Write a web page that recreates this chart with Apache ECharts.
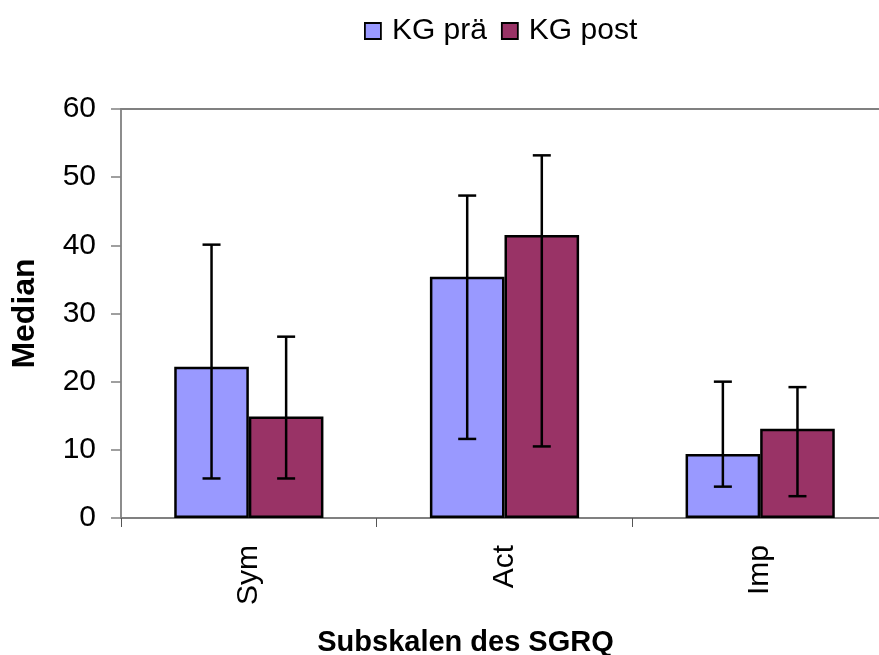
<!DOCTYPE html>
<html>
<head>
<meta charset="utf-8">
<script src="https://cdn.jsdelivr.net/npm/echarts@6/dist/echarts.min.js"></script>
<style>html,body{margin:0;padding:0;background:#fff}#c{width:879px;height:655px}</style>
</head>
<body>
<div id="c"></div>
<script>
const categories = ['Sym', 'Act', 'Imp'];
const seriesNames = ['KG prä', 'KG post'];
const praeValues = [22.2, 35.4, 9.4];
const postValues = [14.9, 41.5, 13.1];
const praeLow = [5.8, 11.6, 4.6];
const praeHigh = [40.1, 47.3, 20.0];
const postLow = [5.8, 10.5, 3.2];
const postHigh = [26.6, 53.2, 19.2];
const yTicks = [0, 10, 20, 30, 40, 50, 60];

const BAR_W = 74.6;
const FONT = '"Liberation Sans", Arial, sans-serif';

function errData(low, high) {
  return categories.map((c, i) => [i, low[i], high[i]]);
}
function errRender(offset) {
  return function (params, api) {
    const idx = api.value(0);
    const lo = api.coord([idx, api.value(1)]);
    const hi = api.coord([idx, api.value(2)]);
    const x = lo[0] + offset;
    const cap = 9;
    const style = { stroke: '#000', lineWidth: 2.5 };
    return {
      type: 'group',
      children: [
        { type: 'line', shape: { x1: x, y1: hi[1], x2: x, y2: lo[1] }, style },
        { type: 'line', shape: { x1: x - cap, y1: hi[1], x2: x + cap, y2: hi[1] }, style },
        { type: 'line', shape: { x1: x - cap, y1: lo[1], x2: x + cap, y2: lo[1] }, style }
      ]
    };
  };
}

const chart = echarts.init(document.getElementById('c'), null, { renderer: 'canvas' });
chart.setOption({
  animation: false,
  backgroundColor: '#fff',
  textStyle: { fontFamily: FONT },
  legend: {
    data: seriesNames,
    left: 359,
    top: 11,
    itemWidth: 16,
    itemHeight: 16,
    itemGap: 14,
    icon: 'rect',
    textStyle: { fontSize: 30, color: '#000', fontFamily: FONT, padding: [0, 0, 0, 6] },
    itemStyle: { borderColor: '#000', borderWidth: 1.8 }
  },
  grid: { left: 121, top: 109, width: 767, height: 409, containLabel: false, outerBoundsMode: 'none' },
  xAxis: [
    {
      type: 'category',
      data: categories,
      position: 'bottom',
      axisLine: { lineStyle: { color: '#808080', width: 1.8 } },
      axisTick: { show: true, inside: false, length: 9, lineStyle: { color: '#555', width: 1 } },
      axisLabel: { rotate: 90, fontSize: 30, color: '#000', fontFamily: FONT, margin: 27 },
      name: 'Subskalen des SGRQ',
      nameLocation: 'middle',
      nameGap: 110,
      nameTextStyle: { fontSize: 29, fontWeight: 'bold', color: '#000', fontFamily: FONT, padding: [0, 78, 0, 0] }
    },
    {
      type: 'category',
      data: categories,
      position: 'top',
      axisLine: { lineStyle: { color: '#808080', width: 1.8 } },
      axisTick: { show: false },
      axisLabel: { show: false }
    }
  ],
  yAxis: {
    type: 'value',
    min: 0,
    max: 60,
    interval: 10,
    axisLine: { show: true, lineStyle: { color: '#808080', width: 1.8 } },
    axisTick: { show: true, inside: false, length: 10, lineStyle: { color: '#808080', width: 1.5 } },
    splitLine: { show: false },
    axisLabel: {
      fontSize: 30, color: '#000', fontFamily: FONT, margin: 25,
      formatter: v => (yTicks.indexOf(v) >= 0 ? String(v) : '')
    },
    name: 'Median',
    nameLocation: 'middle',
    nameGap: 80,
    nameRotate: 90,
    nameTextStyle: { fontSize: 32, fontWeight: 'bold', color: '#000', fontFamily: FONT }
  },
  series: [
    {
      name: seriesNames[0],
      type: 'bar',
      data: praeValues,
      barWidth: BAR_W,
      barGap: '0%',
      itemStyle: { color: '#9999FF', borderColor: '#000', borderWidth: 2.5 }
    },
    {
      name: seriesNames[1],
      type: 'bar',
      data: postValues,
      barWidth: BAR_W,
      barGap: '0%',
      itemStyle: { color: '#993366', borderColor: '#000', borderWidth: 2.5 }
    },
    {
      type: 'custom',
      renderItem: errRender(-BAR_W / 2),
      data: errData(praeLow, praeHigh),
      encode: { x: 0, y: [1, 2] },
      z: 10,
      silent: true
    },
    {
      type: 'custom',
      renderItem: errRender(BAR_W / 2),
      data: errData(postLow, postHigh),
      encode: { x: 0, y: [1, 2] },
      z: 10,
      silent: true
    }
  ]
});
</script>
</body>
</html>
